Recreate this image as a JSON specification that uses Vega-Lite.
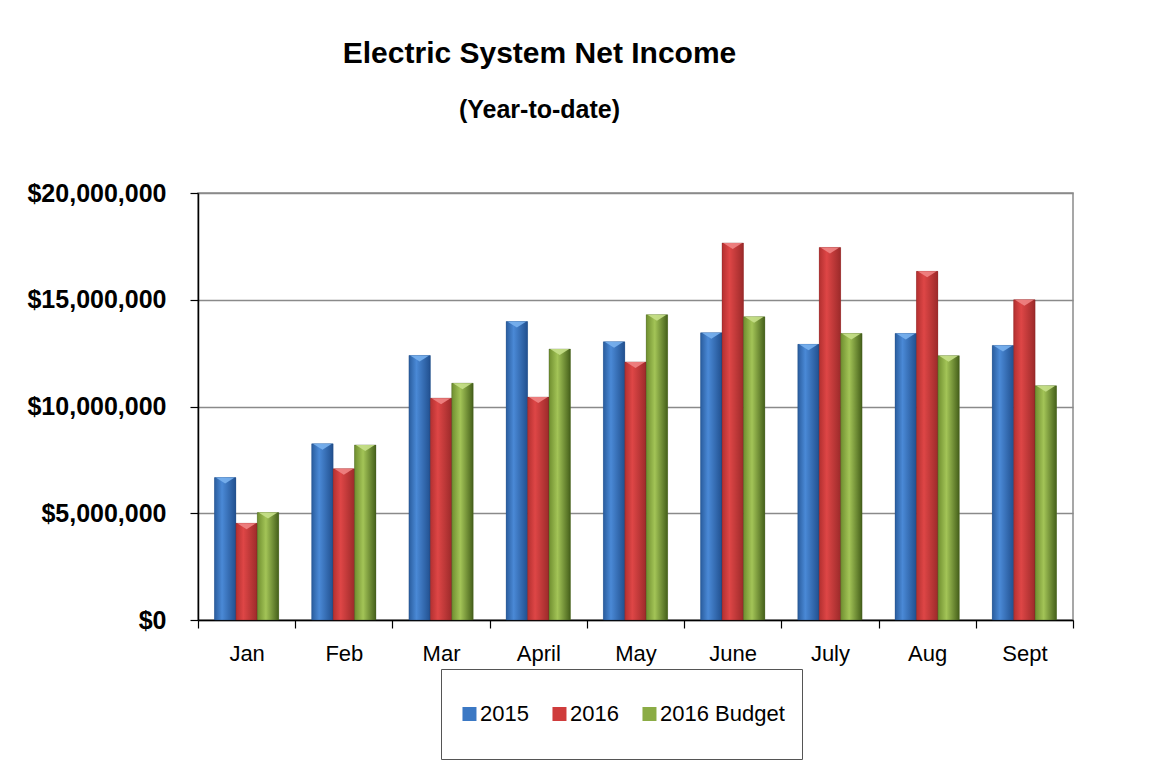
{
  "$schema": "https://vega.github.io/schema/vega-lite/v6.json",
  "width": 875,
  "height": 427,
  "autosize": {"type": "none"},
  "padding": {"left": 198, "top": 193, "right": 86, "bottom": 154},
  "background": "white",
  "title": {
    "text": "Electric System Net Income",
    "subtitle": "(Year-to-date)",
    "anchor": "middle",
    "dx": -96,
    "offset": 58,
    "font": "Liberation Sans",
    "fontSize": 30,
    "fontWeight": "bold",
    "color": "black",
    "subtitleFont": "Liberation Sans",
    "subtitleFontSize": 25,
    "subtitleFontWeight": "bold",
    "subtitleColor": "black",
    "subtitlePadding": 29
  },
  "config": {
    "view": {"stroke": "#8a8a8a", "strokeWidth": 1.5},
    "font": "Liberation Sans"
  },
  "data": {
    "values": [
      {"month": "Jan", "series": "2015", "value": 6670000},
      {"month": "Jan", "series": "2016", "value": 4530000},
      {"month": "Jan", "series": "2016 Budget", "value": 5030000},
      {"month": "Feb", "series": "2015", "value": 8250000},
      {"month": "Feb", "series": "2016", "value": 7080000},
      {"month": "Feb", "series": "2016 Budget", "value": 8200000},
      {"month": "Mar", "series": "2015", "value": 12390000},
      {"month": "Mar", "series": "2016", "value": 10390000},
      {"month": "Mar", "series": "2016 Budget", "value": 11090000},
      {"month": "April", "series": "2015", "value": 13980000},
      {"month": "April", "series": "2016", "value": 10440000},
      {"month": "April", "series": "2016 Budget", "value": 12690000},
      {"month": "May", "series": "2015", "value": 13030000},
      {"month": "May", "series": "2016", "value": 12090000},
      {"month": "May", "series": "2016 Budget", "value": 14300000},
      {"month": "June", "series": "2015", "value": 13450000},
      {"month": "June", "series": "2016", "value": 17660000},
      {"month": "June", "series": "2016 Budget", "value": 14200000},
      {"month": "July", "series": "2015", "value": 12910000},
      {"month": "July", "series": "2016", "value": 17450000},
      {"month": "July", "series": "2016 Budget", "value": 13420000},
      {"month": "Aug", "series": "2015", "value": 13420000},
      {"month": "Aug", "series": "2016", "value": 16330000},
      {"month": "Aug", "series": "2016 Budget", "value": 12380000},
      {"month": "Sept", "series": "2015", "value": 12860000},
      {"month": "Sept", "series": "2016", "value": 15000000},
      {"month": "Sept", "series": "2016 Budget", "value": 10970000}
    ]
  },
  "encoding": {
    "x": {
      "field": "month",
      "type": "nominal",
      "sort": ["Jan", "Feb", "Mar", "April", "May", "June", "July", "Aug", "Sept"],
      "scale": {"paddingInner": 0, "paddingOuter": 0},
      "axis": {
        "title": null,
        "labelAngle": 0,
        "labelFont": "Liberation Sans",
        "labelFontSize": 22,
        "labelColor": "black",
        "labelPadding": 15,
        "tickBand": "extent",
        "tickSize": 8,
        "tickColor": "black",
        "tickWidth": 1.2,
        "domainColor": "black",
        "domainWidth": 1.5
      }
    },
    "xOffset": {
      "field": "series",
      "type": "nominal",
      "sort": ["2015", "2016", "2016 Budget"],
      "scale": {"paddingInner": 0, "paddingOuter": 0.77}
    },
    "y": {
      "field": "value",
      "type": "quantitative",
      "scale": {"domain": [0, 20000000], "nice": false},
      "axis": {
        "title": null,
        "values": [0, 5000000, 10000000, 15000000, 20000000],
        "format": "$,.0f",
        "labelFont": "Liberation Sans",
        "labelFontWeight": "bold",
        "labelFontSize": 25,
        "labelColor": "black",
        "labelPadding": 24,
        "tickSize": 8,
        "tickColor": "black",
        "tickWidth": 1.2,
        "domainColor": "black",
        "domainWidth": 1.5,
        "grid": true,
        "gridColor": "#8a8a8a",
        "gridWidth": 1.5
      }
    }
  },
  "layer": [
    {
      "mark": {"type": "bar"},
      "encoding": {
        "color": {
          "field": "series",
          "type": "nominal",
          "scale": {
            "domain": ["2015", "2016", "2016 Budget"],
            "range": ["#3b78c4", "#cf3c3c", "#8bac45"]
          },
          "legend": {
            "title": null,
            "orient": "none",
            "legendX": 243,
            "legendY": 476,
            "direction": "horizontal",
            "padding": 17,
            "strokeColor": "#555555",
            "fillColor": "white",
            "symbolType": "M-0.84,-0.25H-0.34V0.25H-0.84Z M-0.6,-1L-0.6,1",
            "symbolSize": 3136,
            "symbolStrokeWidth": 0,
            "labelFont": "Liberation Sans",
            "labelFontSize": 22,
            "labelColor": "black",
            "labelOffset": -34,
            "columnPadding": 19
          }
        }
      }
    },
    {
      "transform": [{"filter": "datum.series === '2015'"}],
      "mark": {"type": "bar", "stroke": "#1e3f6e", "strokeWidth": 0.6, "strokeOpacity": 0.5, "fill": {"gradient": "linear", "x1": 0, "y1": 0, "x2": 1, "y2": 0, "stops": [{"offset": 0, "color": "#2a5d9e"}, {"offset": 0.35, "color": "#4a89d6"}, {"offset": 1, "color": "#21508f"}]}}
    },
    {
      "transform": [{"filter": "datum.series === '2016'"}],
      "mark": {"type": "bar", "stroke": "#6e1e1e", "strokeWidth": 0.6, "strokeOpacity": 0.5, "fill": {"gradient": "linear", "x1": 0, "y1": 0, "x2": 1, "y2": 0, "stops": [{"offset": 0, "color": "#b33030"}, {"offset": 0.35, "color": "#de4646"}, {"offset": 1, "color": "#9c2a2a"}]}}
    },
    {
      "transform": [{"filter": "datum.series === '2016 Budget'"}],
      "mark": {"type": "bar", "stroke": "#33451a", "strokeWidth": 0.6, "strokeOpacity": 0.5, "fill": {"gradient": "linear", "x1": 0, "y1": 0, "x2": 1, "y2": 0, "stops": [{"offset": 0, "color": "#6f8e2f"}, {"offset": 0.4, "color": "#a3c457"}, {"offset": 1, "color": "#45601a"}]}}
    },
    {
      "transform": [{"filter": "datum.series === '2015'"}],
      "mark": {"type": "point", "filled": true, "shape": "M-0.95,0L0.95,0L0,0.6Z", "size": 400, "fill": "#79b1ee", "opacity": 0.9, "strokeWidth": 0}
    },
    {
      "transform": [{"filter": "datum.series === '2016'"}],
      "mark": {"type": "point", "filled": true, "shape": "M-0.95,0L0.95,0L0,0.6Z", "size": 400, "fill": "#f08484", "opacity": 0.9, "strokeWidth": 0}
    },
    {
      "transform": [{"filter": "datum.series === '2016 Budget'"}],
      "mark": {"type": "point", "filled": true, "shape": "M-0.95,0L0.95,0L0,0.6Z", "size": 400, "fill": "#c6e08a", "opacity": 0.9, "strokeWidth": 0}
    }
  ]
}
